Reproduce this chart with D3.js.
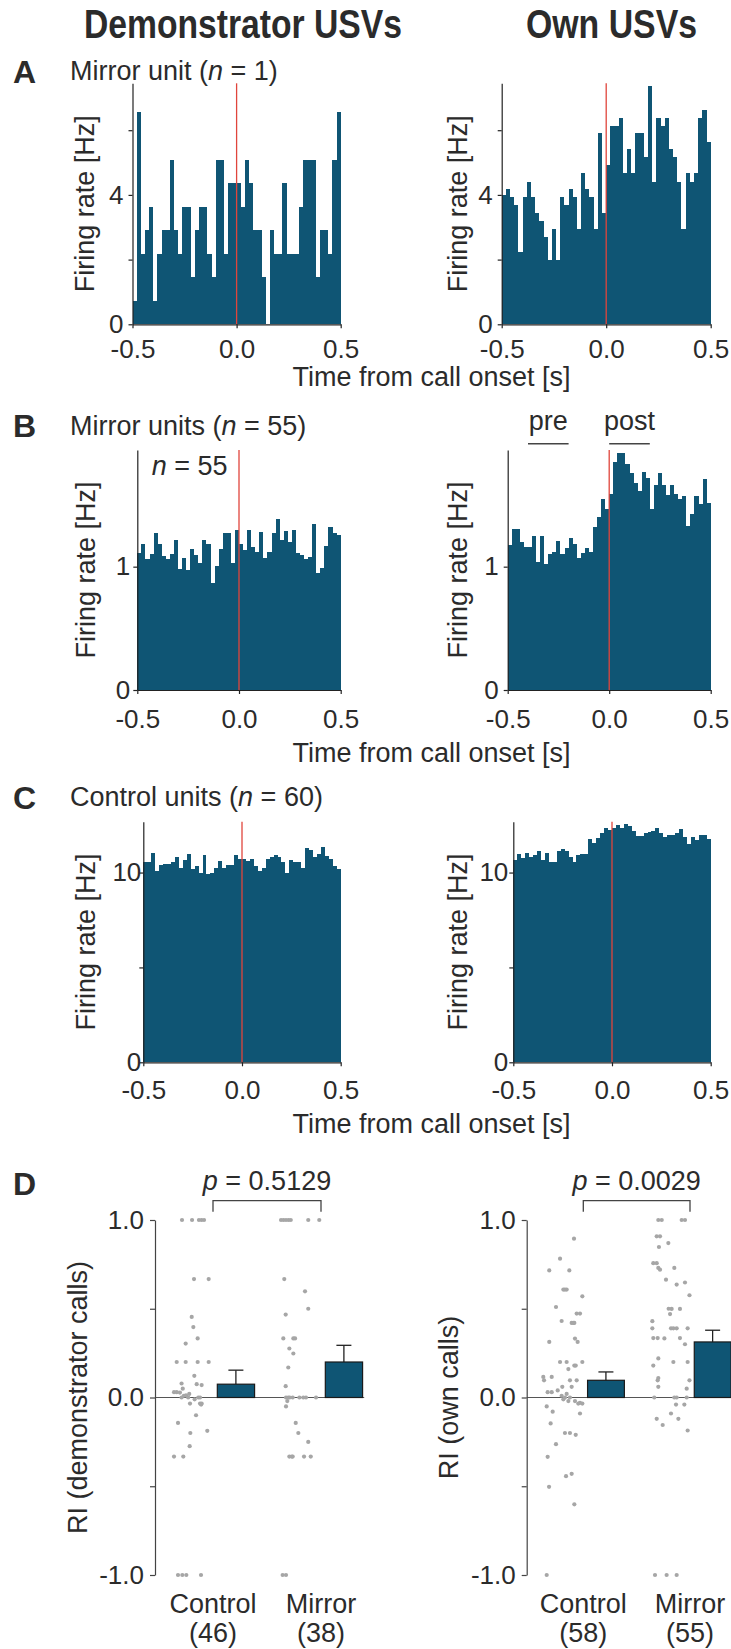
<!DOCTYPE html>
<html><head><meta charset="utf-8">
<script src="https://cdn.jsdelivr.net/npm/d3@7"></script>
<style>
body{margin:0;background:#fff}
svg{display:block}
text{font-family:"Liberation Sans",Arial,sans-serif;fill:#2b2b2b}
</style>
</head><body>
<svg id="chart" width="731" height="1649"></svg>
<script>
// ---------------- DATA ----------------
const binWidth = 0.02;
const binStarts = d3.range(50).map(i => +(-0.5 + i * binWidth).toFixed(2));
const timeTicks = [-0.5, 0, 0.5];
const columnTitles = ["Demonstrator USVs", "Own USVs"];

// Panel A: single mirror unit (Hz)
const demoMirrorUnit = [0.73,6.55,2.18,2.91,3.64,0.73,2.18,2.91,2.91,5.09,2.91,2.18,3.64,3.64,1.45,2.91,3.64,3.64,2.18,1.45,5.09,5.09,2.18,4.36,4.36,4.36,3.64,5.09,4.36,2.91,2.91,1.45,0,2.91,2.18,2.18,4.36,2.18,2.18,2.18,3.64,5.09,5.09,5.09,1.45,2.91,2.91,2.18,5.09,6.55];
const ownMirrorUnit = [4.0,4.19,3.95,3.69,2.23,3.95,4.41,3.95,3.45,3.2,2.71,1.99,2.95,1.99,3.95,3.69,4.19,3.95,2.95,4.67,4.19,3.95,2.95,5.9,3.45,4.92,6.14,6.14,6.39,4.67,5.41,4.67,5.9,5.9,5.16,7.37,4.41,6.39,6.14,6.39,5.41,5.16,4.41,2.95,4.67,4.41,4.67,6.39,6.63,5.65];

// Panel B: mirror units population (Hz)
const demoMirrorPop = [1.108,1.18,1.065,1.10,1.27,1.18,1.087,1.065,1.10,1.216,0.978,1.073,0.973,1.143,1.095,1.027,1.216,1.18,0.865,1.005,1.143,1.27,1.27,1.027,1.297,1.18,1.135,1.297,1.162,1.12,1.284,1.068,1.12,1.27,1.39,1.216,1.29,1.2,1.297,1.108,1.095,1.06,1.08,1.35,0.946,0.987,1.17,1.324,1.276,1.26];
const ownMirrorPop = [1.176,1.305,1.305,1.2,1.16,1.16,1.25,1.04,1.25,1.02,1.1,1.12,1.21,1.1,1.15,1.23,1.18,1.07,1.11,1.15,1.12,1.32,1.4,1.55,1.47,1.59,1.85,1.92,1.92,1.83,1.76,1.68,1.61,1.77,1.72,1.47,1.66,1.76,1.66,1.58,1.66,1.59,1.55,1.57,1.33,1.43,1.57,1.51,1.71,1.52];

// Panel C: control units population (Hz)
const demoControlPop = [10.58,10.58,11.02,10.09,10.4,10.44,10.44,10.58,10.84,10.23,10.67,10.97,10.18,10.32,10.0,10.93,9.93,9.96,10.23,10.62,10.23,10.39,10.39,10.91,10.7,10.7,10.62,10.7,10.35,10.09,10.26,10.7,10.84,10.93,10.84,10.58,10.0,10.67,10.58,10.58,10.23,11.28,11.2,10.84,10.97,11.37,10.88,10.7,10.32,10.19];
const ownControlPop = [10.67,10.97,10.79,11.05,10.84,10.93,11.14,10.67,11.02,10.54,10.54,11.11,11.23,11.14,10.84,10.54,10.9,10.97,10.97,11.78,11.55,11.81,12.07,12.34,12.25,12.37,12.48,12.37,12.57,12.43,12.21,11.93,11.93,12.07,12.16,12.21,12.34,12.07,11.85,11.99,11.99,12.07,12.3,11.85,11.51,11.9,11.72,11.99,11.99,11.78];

// Response windows (s)
const preWindow = [-0.4, -0.2];
const postWindow = [0, 0.2];

// Panel D: response index per unit, with horizontal jitter
const groups = ["Control", "Mirror"];
const demoCounts = [46, 38];
const ownCounts = [58, 55];
const demoPValue = "0.5129";
const ownPValue = "0.0029";

const ctrlDemoRI = [1,1,1,1,1,0.667,0.667,0.454,0.397,0.333,0.304,0.2,0.2,0.2,0.2,0.122,0.079,0.075,0.07,0.03,0.03,0.028,0.01,0.012,0,0,0,-0.034,-0.034,-0.034,-0.1,-0.143,-0.188,-0.2,-0.274,-0.333,-0.333,-1,-1,-1,-1,0.02,-0.01,0.05,0.0,-0.04];
const ctrlDemoJit = [0.287,0.194,0.13,0.106,0.083,0.176,0.04,0.197,0.182,0.142,0.253,0.336,0.253,0.142,0.04,0.173,0.291,0.151,0.105,0.361,0.336,0.306,0.27,0.25,0.291,0.136,0.12,0.213,0.12,0.105,0.157,0.324,0.053,0.21,0.216,0.361,0.275,0.324,0.284,0.247,0.111,0.22,0.17,0.28,0.23,0.11];
const mirDemoRI = [1,1,1,1,1,1,0.667,0.598,0.5,0.467,0.333,0.333,0.276,0.248,0.169,0.064,0,0,0,0,0,0,-0.02,-0.05,-0.143,-0.2,-0.25,-0.333,-0.333,-0.333,-0.333,-1,-1,0,0,1,-0.333,0.333];
const mirDemoJit = [0.37,0.347,0.324,0.301,0.118,0.016,0.34,0.148,0.118,0.327,0.349,0.256,0.293,0.256,0.303,0.327,0.324,0.303,0.262,0.164,0.139,0.046,0.312,0.324,0.234,0.21,0.118,0.293,0.262,0.157,0.095,0.355,0.324,0.29,0.2,0.28,0.27,0.24];
const ctrlOwnRI = [0.895,0.782,0.716,0.716,0.608,0.608,0.608,0.57,0.51,0.473,0.473,0.431,0.42,0.42,0.42,0.332,0.313,0.313,0.2,0.2,0.2,0.18,0.18,0.16,0.116,0.116,0.097,0.097,0.097,0.06,0.06,0.03,0.03,0.01,-0.01,0,0.02,-0.02,0,-0.02,-0.03,-0.034,-0.034,-0.05,-0.08,-0.09,-0.146,-0.2,-0.2,-0.21,-0.263,-0.334,-0.43,-0.443,-0.503,-0.602,-1,0.04];
const ctrlOwnJit = [0.087,0.218,0.319,0.131,0.187,0.172,0.156,0.009,0.256,0.062,0.031,0.203,0.109,0.094,0.084,0.078,0.319,0.053,0.218,0.156,0.009,0.084,0.071,0.14,0.375,0.296,0.368,0.125,0.062,0.197,0.109,0.334,0.296,0.203,0.187,0.172,0.156,0.14,0.125,0.078,0.031,0.047,0.009,0.343,0.287,0.031,0.306,0.172,0.125,0.071,0.256,0.334,0.109,0.162,0.321,0.084,0.343,0.24];
const mirOwnRI = [1,1,1,1,0.908,0.908,0.87,0.848,0.757,0.757,0.73,0.73,0.72,0.664,0.648,0.636,0.576,0.499,0.499,0.47,0.43,0.39,0.39,0.39,0.39,0.39,0.335,0.335,0.335,0.3,0.22,0.2,0.2,0.18,0.11,0.097,0.097,0.06,0.05,0,0,0,0,-0.04,-0.04,-0.09,-0.12,-0.12,-0.155,-0.186,-1,-1,-1,0.333,0.5];
const mirOwnJit = [0.297,0.265,0.078,0.047,0.312,0.281,0.203,0.291,0.344,0.312,0.297,0.147,0.281,0.225,0.047,0.125,0.005,0.172,0.094,0.187,0.353,0.353,0.178,0.156,0.125,0.022,0.344,0.303,0.094,0.047,0.297,0.156,0.022,0.344,0.297,0.303,0.005,0.297,0.031,0.335,0.147,0.125,0.031,0.131,0.053,0.178,0.312,0.109,0.256,0.022,0.328,0.219,0.125,0.24,0.2];

const demoMeans = [0.075, 0.2];
const demoSEM = [0.079, 0.094];
const ownMeans = [0.097, 0.313];
const ownSEM = [0.047, 0.066];

// ---------------- STYLE ----------------
const BAR = "#0f5574";
const RED = "#e0453c";
const AX = "#222";
const DOT = "#a6a6a6";
const FS = 27, TFS = 26;

const svg = d3.select("#chart");

function rich(x, y, parts, opts = {}) {
  const t = svg.append("text").attr("x", x).attr("y", y)
    .attr("font-size", opts.size || FS)
    .attr("text-anchor", opts.anchor || "start");
  if (opts.weight) t.attr("font-weight", opts.weight);
  if (opts.rotate) t.attr("transform", `rotate(${opts.rotate},${x},${y})`);
  if (opts.len) t.attr("textLength", opts.len).attr("lengthAdjust", "spacingAndGlyphs");
  (Array.isArray(parts) ? parts : [[parts]]).forEach(p => {
    const s = t.append("tspan").text(p[0]);
    if (p[1]) s.attr("font-style", "italic");
  });
  return t;
}

function styleAxis(g) {
  g.attr("font-family", null).attr("font-size", null);
  g.select(".domain").attr("stroke", AX).attr("stroke-width", 1.2);
  g.selectAll(".tick line").attr("stroke", AX).attr("stroke-width", 1.2);
  g.selectAll(".tick text").attr("font-size", TFS).attr("fill", "#2b2b2b");
}

// ---------------- TITLES ----------------
rich(243, 38, columnTitles[0], {anchor: "middle", weight: "bold", size: 40, len: 318});
rich(611.5, 38, columnTitles[1], {anchor: "middle", weight: "bold", size: 40, len: 171});

// ---------------- HISTOGRAMS ----------------
function hist(c) {
  const x = d3.scaleLinear().domain([-0.5, 0.5]).range([c.x0, c.x1]);
  const y = d3.scaleLinear().domain([0, c.yMax]).range([c.yBase, c.yTop]);
  const g = svg.append("g");
  g.selectAll("rect").data(c.values).join("rect")
    .attr("x", (d, i) => x(binStarts[i]))
    .attr("width", (d, i) => x(binStarts[i] + binWidth) - x(binStarts[i]))
    .attr("y", d => y(d))
    .attr("height", d => y(0) - y(d))
    .attr("fill", BAR)
    .attr("shape-rendering", "crispEdges");
  g.append("line").attr("x1", x(0)).attr("x2", x(0)).attr("y1", y(0)).attr("y2", y(c.yMax))
    .attr("stroke", RED).attr("stroke-width", 1.3);
  const ya = g.append("g").attr("transform", `translate(${c.x0},0)`)
    .call(d3.axisLeft(y).tickValues(c.ticks).tickSize(4).tickSizeOuter(0).tickPadding(c.yPad)
      .tickFormat(d => c.labeled.includes(d) ? String(d) : ""));
  styleAxis(ya);
  const xa = g.append("g").attr("transform", `translate(0,${c.yBase})`)
    .call(d3.axisBottom(x).tickValues(timeTicks).tickSize(4).tickSizeOuter(0).tickPadding(c.xPad)
      .tickFormat(d => d.toFixed(1)));
  styleAxis(xa);
  rich(c.ylabX, (c.yTop + c.yBase) / 2, "Firing rate [Hz]", {anchor: "middle", rotate: -90});
  return x;
}

// Row A
rich(13, 83, "A", {weight: "bold", size: 32});
rich(70, 80, [["Mirror unit ("], ["n", true], [" = 1)"]]);
hist({values: demoMirrorUnit, x0: 132.5, x1: 340.7, yTop: 83.3, yBase: 324.3, yMax: 7.45,
  ticks: [0, 2, 4, 6], labeled: [0, 4], yPad: 5, xPad: 11, ylabX: 94.5});
hist({values: ownMirrorUnit, x0: 501.7, x1: 710.7, yTop: 83.3, yBase: 324.3, yMax: 7.45,
  ticks: [0, 2, 4, 6], labeled: [0, 4], yPad: 5, xPad: 11, ylabX: 466.7});
rich(431.5, 386, "Time from call onset [s]", {anchor: "middle"});

// Row B
rich(13, 437, "B", {weight: "bold", size: 32});
rich(70, 435, [["Mirror units ("], ["n", true], [" = 55)"]]);
hist({values: demoMirrorPop, x0: 137.3, x1: 340.7, yTop: 450, yBase: 690, yMax: 1.946,
  ticks: [0, 1], labeled: [0, 1], yPad: 3, xPad: 16, ylabX: 95});
rich(151.7, 475, [["n", true], [" = 55"]]);
const xBr = hist({values: ownMirrorPop, x0: 507.7, x1: 710.7, yTop: 450, yBase: 690, yMax: 1.946,
  ticks: [0, 1], labeled: [0, 1], yPad: 5, xPad: 16, ylabX: 466.7});
[[preWindow, "pre"], [postWindow, "post"]].forEach(([w, lab]) => {
  svg.append("line").attr("x1", xBr(w[0])).attr("x2", xBr(w[1])).attr("y1", 443.7).attr("y2", 443.7)
    .attr("stroke", "#444").attr("stroke-width", 1.6);
  rich((xBr(w[0]) + xBr(w[1])) / 2, 430, lab, {anchor: "middle"});
});
rich(431.5, 762, "Time from call onset [s]", {anchor: "middle"});

// Row C
rich(13, 809, "C", {weight: "bold", size: 32});
rich(70, 806, [["Control units ("], ["n", true], [" = 60)"]]);
hist({values: demoControlPop, x0: 143.3, x1: 340.7, yTop: 821.7, yBase: 1062.3, yMax: 12.68,
  ticks: [0, 5, 10], labeled: [0, 10], yPad: -2, xPad: 14, ylabX: 95});
hist({values: ownControlPop, x0: 513.3, x1: 710.7, yTop: 821.7, yBase: 1062.3, yMax: 12.68,
  ticks: [0, 5, 10], labeled: [0, 10], yPad: 1, xPad: 14, ylabX: 466.7});
rich(431.5, 1133, "Time from call onset [s]", {anchor: "middle"});

// ---------------- PANEL D ----------------
rich(13, 1195, "D", {weight: "bold", size: 32});
function riPanel(c) {
  const y = d3.scaleLinear().domain([-1, 1]).range([1575, 1220]);
  const x = d3.scaleLinear().domain([0, 1]).range([c.c0, c.c1]);
  const g = svg.append("g");
  g.append("line").attr("x1", c.axisX).attr("x2", x(1.4)).attr("y1", y(0)).attr("y2", y(0))
    .attr("stroke", "#555").attr("stroke-width", 1.2);
  const dots = [];
  [[c.ctrlRI, c.ctrlJit], [c.mirRI, c.mirJit]].forEach(([ri, jit], gi) =>
    ri.forEach((v, i) => dots.push({gi, v, j: jit[i]})));
  g.selectAll("circle").data(dots).join("circle")
    .attr("cx", d => x(d.gi - d.j)).attr("cy", d => y(d.v)).attr("r", 2.1).attr("fill", DOT);
  c.means.forEach((m, i) => {
    const cx = x(i + 0.212);
    g.append("line").attr("x1", cx).attr("x2", cx).attr("y1", y(m)).attr("y2", y(m + c.sems[i]))
      .attr("stroke", "#222").attr("stroke-width", 1.3);
    g.append("line").attr("x1", cx - 7.5).attr("x2", cx + 7.5).attr("y1", y(m + c.sems[i])).attr("y2", y(m + c.sems[i]))
      .attr("stroke", "#222").attr("stroke-width", 1.3);
    g.append("rect").attr("x", x(i + 0.04)).attr("width", x(i + 0.385) - x(i + 0.04))
      .attr("y", y(m)).attr("height", y(0) - y(m))
      .attr("fill", BAR).attr("stroke", "#1a1a1a").attr("stroke-width", 1.2);
  });
  const ya = g.append("g").attr("transform", `translate(${c.axisX},0)`)
    .call(d3.axisLeft(y).tickValues([-1, -0.5, 0, 0.5, 1]).tickSize(5).tickSizeOuter(0).tickPadding(6)
      .tickFormat(d => Number.isInteger(d) ? d.toFixed(1) : ""));
  styleAxis(ya);
  ya.select(".domain").attr("stroke", "#444");
  ya.selectAll(".tick line").attr("stroke", "#444");
  // bracket
  g.append("path").attr("d", `M${x(0)},1211.7V1200.7H${x(1)}V1211.7`)
    .attr("fill", "none").attr("stroke", "#444").attr("stroke-width", 1.3);
  rich((x(0) + x(1)) / 2, 1190, [["p", true], [" = " + c.p]], {anchor: "middle"});
  groups.forEach((name, i) => {
    rich(x(i), 1613, name, {anchor: "middle"});
    rich(x(i), 1642, "(" + c.counts[i] + ")", {anchor: "middle"});
  });
  rich(c.ylabX, 1397.5, c.ylab, {anchor: "middle", rotate: -90});
}
riPanel({axisX: 155, c0: 213, c1: 321, ctrlRI: ctrlDemoRI, ctrlJit: ctrlDemoJit, mirRI: mirDemoRI, mirJit: mirDemoJit,
  means: demoMeans, sems: demoSEM, p: demoPValue, counts: demoCounts, ylab: "RI (demonstrator calls)", ylabX: 87});
riPanel({axisX: 526.7, c0: 583.3, c1: 690, ctrlRI: ctrlOwnRI, ctrlJit: ctrlOwnJit, mirRI: mirOwnRI, mirJit: mirOwnJit,
  means: ownMeans, sems: ownSEM, p: ownPValue, counts: ownCounts, ylab: "RI (own calls)", ylabX: 458});
</script>
</body></html>
